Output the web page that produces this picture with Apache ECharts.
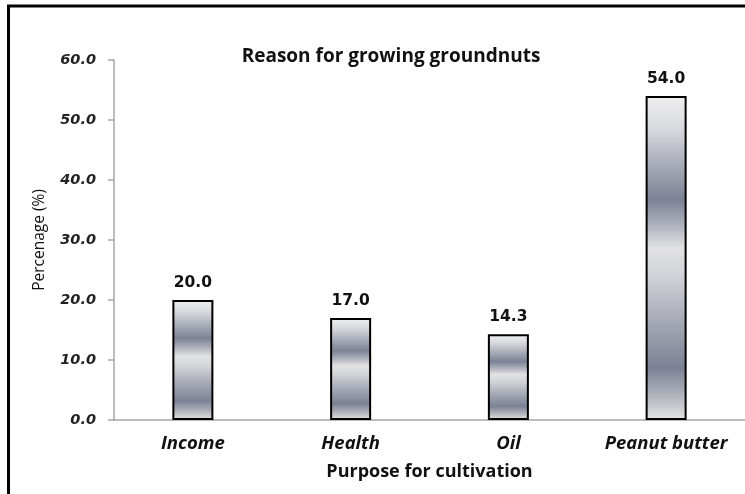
<!DOCTYPE html>
<html>
<head>
<meta charset="utf-8">
<script src="https://cdn.jsdelivr.net/npm/echarts@6/dist/echarts.min.js"></script>
<style>
  html, body { margin: 0; padding: 0; background: #fff; }
  #main { width: 745px; height: 494px; }
</style>
</head>
<body>
<div id="main"></div>
<script>
// data
var categories = ['Income', 'Health', 'Oil', 'Peanut butter'];
var percentages = [20.0, 17.0, 14.3, 54.0];
var yTicks = [0, 10, 20, 30, 40, 50, 60];

var chart = echarts.init(document.getElementById('main'));

// banded grey gradient like the original bars
var barFill = new echarts.graphic.LinearGradient(0, 0, 0, 1, [
  { offset: 0, color: '#f0f0f0' },
  { offset: 0.1, color: '#d8d9de' },
  { offset: 0.22, color: '#a5a9b5' },
  { offset: 0.32, color: '#7c8296' },
  { offset: 0.40, color: '#b0b3bd' },
  { offset: 0.47, color: '#e2e2e4' },
  { offset: 0.55, color: '#d3d4d9' },
  { offset: 0.70, color: '#a4a8b4' },
  { offset: 0.84, color: '#7c8296' },
  { offset: 0.92, color: '#aeb1ba' },
  { offset: 1, color: '#e6e6e6' }
]);

var sans = 'Open Sans';

chart.setOption({
  animation: false,
  title: {
    text: 'Reason for growing groundnuts',
    left: 386,
    textAlign: 'center',
    top: 42,
    textStyle: { fontFamily: sans, fontSize: 19, fontWeight: 'bold', color: '#111' }
  },
  graphic: [{
    type: 'rect',
    shape: { x: 8.5, y: 6, width: 800, height: 600 },
    style: { fill: 'none', stroke: '#000', lineWidth: 3 },
    silent: true
  }],
  grid: { left: 114, top: 60, width: 642, height: 360 },
  xAxis: {
    type: 'category',
    data: categories,
    name: 'Purpose for cultivation',
    nameLocation: 'middle',
    nameGap: 43,
    nameTextStyle: { fontFamily: sans, fontSize: 18, fontWeight: 'bold', color: '#111' },
    axisLine: { lineStyle: { color: '#a6a6a6', width: 1.5 } },
    axisTick: { show: false },
    axisLabel: {
      interval: 0,
      hideOverlap: false,
      margin: 14,
      fontFamily: sans, fontSize: 18.5, fontWeight: 'bold', fontStyle: 'italic', color: '#111'
    }
  },
  yAxis: {
    type: 'value',
    min: yTicks[0],
    max: yTicks[yTicks.length - 1],
    interval: 10,
    name: 'Percenage (%)',
    nameLocation: 'middle',
    nameGap: 66,
    nameTextStyle: { fontFamily: sans, fontSize: 15.5, color: '#111' },
    axisLine: { show: true, lineStyle: { color: '#a6a6a6', width: 1.5 } },
    axisTick: { show: true, length: 6, lineStyle: { color: '#a6a6a6', width: 1.5 } },
    splitLine: { show: false },
    axisLabel: {
      margin: 18,
      fontFamily: 'DejaVu Sans', fontSize: 14.5, fontWeight: 'bold', fontStyle: 'italic', color: '#222',
      formatter: function (v) { return v.toFixed(1); }
    }
  },
  series: [{
    type: 'bar',
    data: percentages,
    barWidth: 41,
    itemStyle: { color: barFill, borderColor: '#000', borderWidth: 2 },
    label: {
      show: true,
      position: 'top',
      distance: 9,
      fontFamily: 'DejaVu Sans', fontSize: 15.5, fontWeight: 'bold', color: '#111',
      formatter: function (p) { return p.value.toFixed(1); }
    }
  }]
});
</script>
</body>
</html>
